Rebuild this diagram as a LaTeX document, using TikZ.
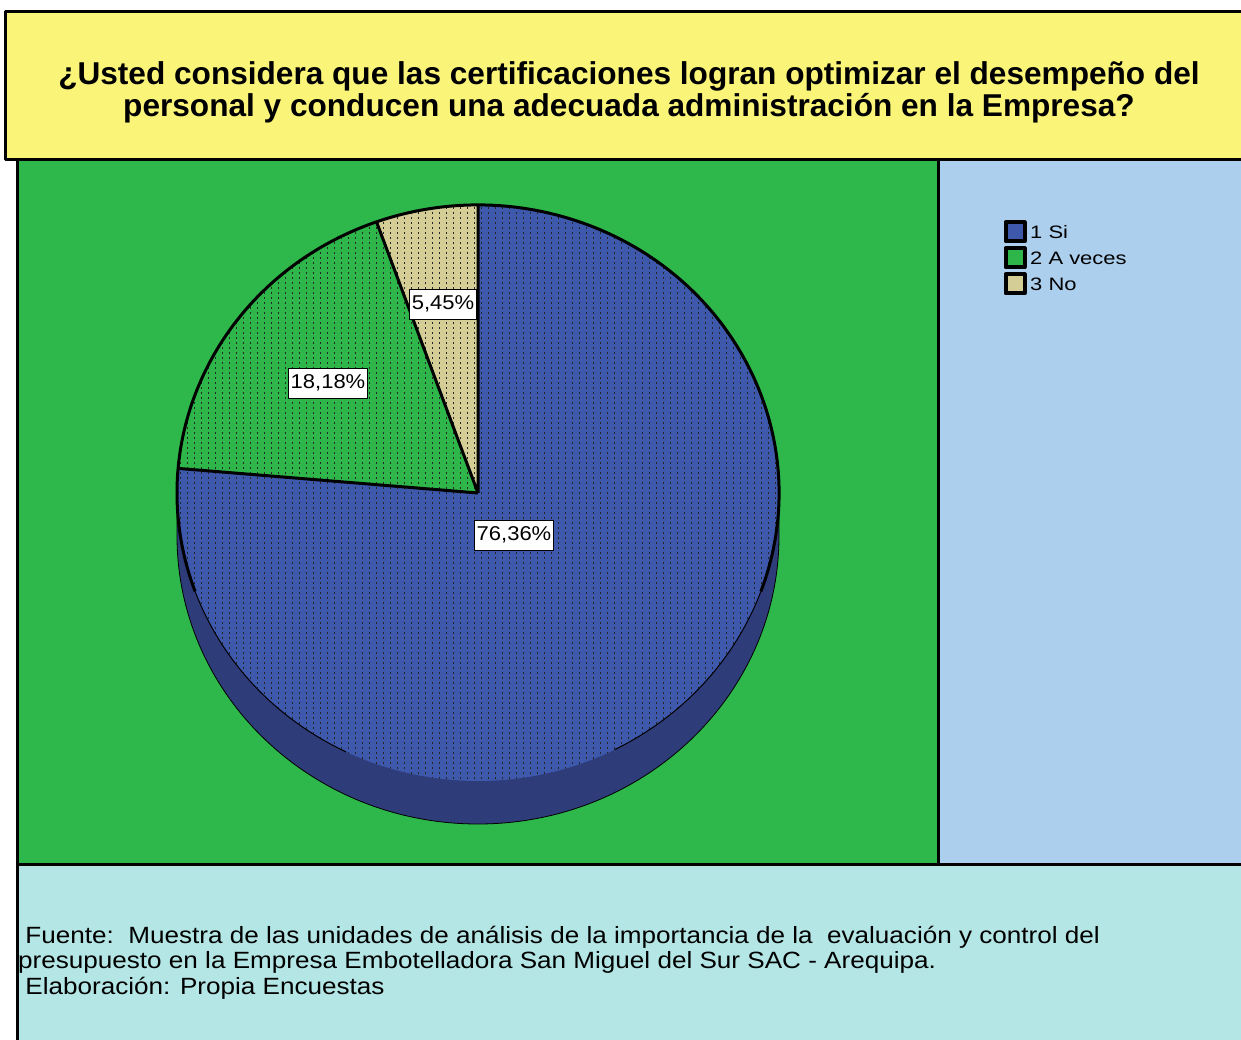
\documentclass[tikz,border=0pt]{standalone}
\usepackage{fontspec}
\setmainfont{Liberation Sans}
\usepackage{tikz}
\definecolor{titlebg}{RGB}{250,245,120}
\definecolor{plotbg}{RGB}{46,184,75}
\definecolor{legbg}{RGB}{172,207,237}
\definecolor{notebg}{RGB}{180,230,230}
\definecolor{siblue}{RGB}{62,88,172}
\definecolor{sidark}{RGB}{46,60,122}
\definecolor{avgreen}{RGB}{46,182,75}
\definecolor{notan}{RGB}{213,205,150}

\begin{document}
\begin{tikzpicture}[x=1pt,y=1pt,line join=round]
 \tikzstyle{panel} = [draw=black,line width=3]
 \tikzstyle{dotrow} = [black!85,line width=0.9,dash pattern=on 2pt off 3pt]
 \tikzstyle{pct} = [draw,fill=white,inner xsep=2,inner ysep=0,minimum height=30,line width=0.8,font=\fontsize{20}{22}\selectfont\addfontfeature{FakeStretch=1.1}]
 \tikzstyle{swatch} = [draw,line width=4,minimum size=19,inner sep=0]
 \tikzstyle{legtext} = [anchor=west,inner sep=0,font=\fontsize{18}{22}\selectfont\addfontfeature{FakeStretch=1.22}]
 \tikzstyle{note} = [anchor=base west,inner sep=0,font=\fontsize{23.5}{26}\selectfont\addfontfeature{FakeStretch=1.11}]
 \newcommand{\slice}[3]{\fill[#1] (pc) -- ++(#2:301pt and 288pt) arc[start angle=#2,end angle=#3,x radius=301pt,y radius=288pt] -- cycle;}
 \useasboundingbox (0,0) rectangle (1241,1039);
 \clip (0,0) rectangle (1241,1039);
 \fill[white] (0,0) rectangle (1241,1039);

 \filldraw[panel,fill=titlebg] (5,1027) rectangle (1250,879);
 \filldraw[panel,fill=plotbg] (17,879) rectangle (938,175);
 \filldraw[panel,fill=legbg] (938,879) rectangle (1250,175);
 \filldraw[panel,fill=notebg] (17,175) rectangle (1250,-10);

 \node[font=\bfseries\fontsize{31.6}{32}\selectfont,align=center] (title) at (629,947)
  {¿Usted considera que las certificaciones logran optimizar el desempeño del\\personal y conducen una adecuada administración en la Empresa?};

 \coordinate (pc) at (478,546);
 \filldraw[sidark,draw=black,line width=0.8] (177,546) -- (177,503)
  arc[start angle=180,end angle=360,x radius=301pt,y radius=288pt] -- (779,546) -- cycle;
 \slice{siblue}{90}{-184.9}
 \slice{avgreen}{175.1}{109.7}
 \slice{notan}{109.7}{90}
 \begin{scope}
  \clip (pc) ellipse[x radius=301pt,y radius=288pt];
  \foreach \i in {0,...,86} \draw[dotrow] (180+7*\i,250) -- (180+7*\i,840);
 \end{scope}
 \draw[line width=3] (pc) -- ++(90:301pt and 288pt) (pc) -- ++(109.7:301pt and 288pt) (pc) -- ++(175.1:301pt and 288pt);
 \draw[line width=3] (pc) ++(-20:301pt and 288pt) arc[start angle=-20,end angle=200,x radius=301pt,y radius=288pt];
 \draw[line width=1] (pc) ++(200:301pt and 288pt) arc[start angle=200,end angle=244,x radius=301pt,y radius=288pt];
 \draw[line width=1] (pc) ++(297:301pt and 288pt) arc[start angle=297,end angle=340,x radius=301pt,y radius=288pt];

 \node[pct] (psi) at (514,504) {76,36\%};
 \node[pct] (pav) at (328,656) {18,18\%};
 \node[pct] (pno) at (443,735) {5,45\%};

 \node[swatch,fill=siblue] (ksi) at (1015,807) {};
 \node[swatch,fill=avgreen] (kav) at (1015,781) {};
 \node[swatch,fill=notan] (kno) at (1015,755) {};
 \node[legtext] (lsi) at (1030,807) {1 Si};
 \node[legtext] (lav) at (1030,781) {2 A veces};
 \node[legtext] (lno) at (1030,755) {3 No};

 \node[note] (src1) at (18,96) {\ Fuente:\ \ Muestra de las unidades de análisis de la importancia de la\ \ evaluación y control del};
 \node[note] (src2) at (18,71) {presupuesto en la Empresa Embotelladora San Miguel del Sur SAC - Arequipa.};
 \node[note] (src3) at (18,45) {\ Elaboración: Propia Encuestas};
\end{tikzpicture}
\end{document}
